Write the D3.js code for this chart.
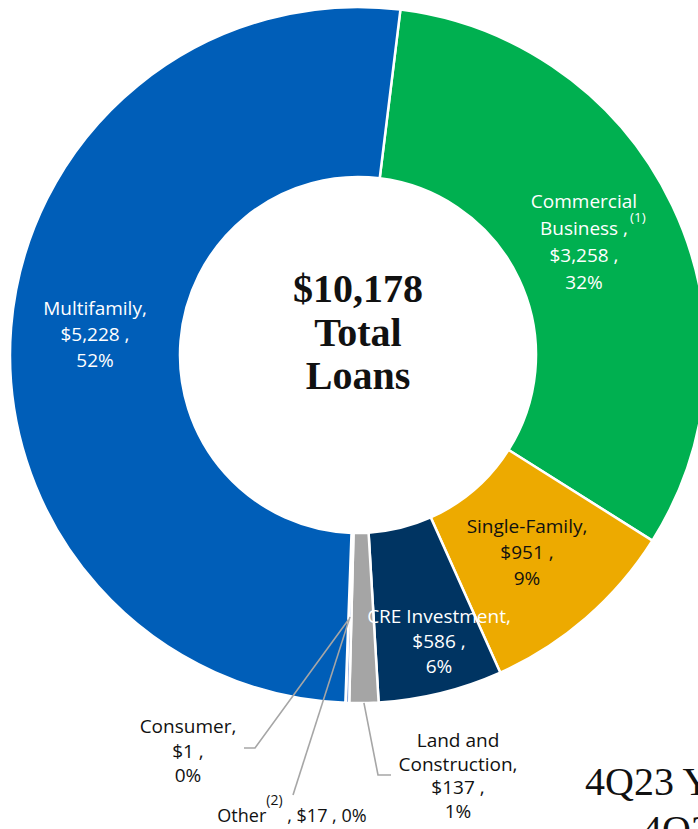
<!DOCTYPE html>
<html>
<head>
<meta charset="utf-8">
<script src="https://cdn.jsdelivr.net/npm/d3@7"></script>
<style>
  html, body { margin: 0; padding: 0; background: #fff; overflow: hidden; }
  svg { display: block; }
</style>
</head>
<body>
<svg id="chart" width="698" height="829"></svg>
<script>
// Loan portfolio composition ($ millions), clockwise from the top
const categories = ["Commercial Business", "Single-Family", "CRE Investment",
                    "Land and Construction", "Other", "Consumer", "Multifamily"];
const loanValues = [3258, 951, 586, 137, 17, 1, 5228];
const pctLabels = ["32%", "9%", "6%", "1%", "0%", "0%", "52%"];
const sliceColors = ["#00b050", "#edaa00", "#003462", "#a5a5a5", "#8faadc", "#8faadc", "#005eb8"];
const totalLabel = ["$10,178", "Total", "Loans"];

const svg = d3.select("#chart");
const cx = 358, cy = 355;
const outerR = 348, innerR = 178;

const fmtMoney = v => "$" + d3.format(",")(v);

const data = categories.map((c, i) => ({ name: c, value: loanValues[i], pct: pctLabels[i], color: sliceColors[i] }));

const pie = d3.pie()
  .value(d => d.value)
  .sort(null)
  .startAngle(7 * Math.PI / 180)
  .endAngle(7 * Math.PI / 180 + 2 * Math.PI);

const arc = d3.arc().innerRadius(innerR).outerRadius(outerR);
const arcs = pie(data);

const g = svg.append("g").attr("transform", `translate(${cx},${cy})`);

g.selectAll("path.slice")
  .data(arcs)
  .join("path")
  .attr("class", "slice")
  .attr("d", arc)
  .attr("fill", d => d.data.color)
  .attr("stroke", "#fff")
  .attr("stroke-width", 2.5)
  .attr("stroke-linejoin", "miter");

// Center total
const center = g.append("text")
  .attr("text-anchor", "middle")
  .attr("font-family", "'Liberation Serif', 'Times New Roman', serif")
  .attr("font-weight", "bold")
  .attr("font-size", 40)
  .attr("fill", "#111");
totalLabel.forEach((t, i) => {
  center.append("tspan").attr("x", 0).attr("y", -53 + i * 43.5).text(t);
});

// Label placement (absolute page coordinates)
const labelLayout = {
  "Multifamily":          { x: 95,  y: 315, lh: 26, color: "#fff" },
  "Commercial Business":  { x: 584, y: 208, lh: 27, color: "#fff", split: true, note: "(1)" },
  "Single-Family":        { x: 527, y: 533, lh: 26, color: "#111" },
  "CRE Investment":       { x: 439, y: 623, lh: 25, color: "#fff" },
  "Land and Construction":{ x: 458, y: 747, lh: 23.5, color: "#111", split: true },
  "Consumer":             { x: 188, y: 733, lh: 24.5, color: "#111" },
  "Other":                { x: 292, y: 822, lh: 0, color: "#111", inline: true, note: "(2)" }
};

const labelFont = "'Open Sans', 'Noto Sans', sans-serif";
const labels = svg.append("g")
  .attr("font-family", labelFont)
  .attr("font-size", 19)
  .attr("text-anchor", "middle");

arcs.forEach(a => {
  const d = a.data;
  const L = labelLayout[d.name];
  if (!L) return;
  const t = labels.append("text").attr("fill", L.color);

  if (L.inline) {
    // single line with an inline raised footnote marker
    t.attr("x", L.x).attr("y", L.y).attr("font-size", 18);
    t.append("tspan").text(d.name);
    t.append("tspan").attr("font-size", 14).attr("dy", -17).text(L.note);
    t.append("tspan").attr("dy", 17).text(` , ${fmtMoney(d.value)} , ${d.pct}`);
    return;
  }

  let lines;
  if (L.split) {
    const words = d.name.split(" ");
    const first = words.length > 2 ? words.slice(0, 2).join(" ") : words[0];
    const rest = words.length > 2 ? words.slice(2).join(" ") : words.slice(1).join(" ");
    lines = [first, rest + (L.note ? " ," : ","), fmtMoney(d.value) + " ,", d.pct];
  } else {
    lines = [d.name + ",", fmtMoney(d.value) + " ,", d.pct];
  }
  lines.forEach((ln, i) => {
    t.append("tspan").attr("x", L.x).attr("y", L.y + i * L.lh).text(ln);
  });

  if (L.note) {
    const noteLine = t.selectAll("tspan").nodes()[1];
    const w = noteLine.getComputedTextLength();
    labels.append("text")
      .attr("text-anchor", "start")
      .attr("font-size", 13.5)
      .attr("fill", L.color)
      .attr("x", L.x + w / 2 + 2)
      .attr("y", L.y + L.lh - 13)
      .text(L.note);
  }
});

// Leader lines for the narrow slices
const leaders = svg.append("g")
  .attr("fill", "none")
  .attr("stroke", "#a6a6a6")
  .attr("stroke-width", 1.6);

function sliceByName(n) { return arcs.find(a => a.data.name === n); }
function polar(angle, r) { return [cx + r * Math.sin(angle), cy - r * Math.cos(angle)]; }

const consumerArc = sliceByName("Consumer");
const otherArc = sliceByName("Other");
const landArc = sliceByName("Land and Construction");

const cStart = polar((consumerArc.startAngle + consumerArc.endAngle) / 2, 265);
leaders.append("polyline")
  .attr("points", [cStart, [255, 748], [244, 748]].map(p => p.join(",")).join(" "));

const oStart = polar((otherArc.startAngle + otherArc.endAngle) / 2, 262);
leaders.append("polyline")
  .attr("points", [oStart, [293, 795]].map(p => p.join(",")).join(" "));

const lStart = polar((landArc.startAngle + landArc.endAngle) / 2, outerR);
leaders.append("polyline")
  .attr("points", [lStart, [378, 775], [391, 775]].map(p => p.join(",")).join(" "));

// Heading text running off the lower right
const side = svg.append("g")
  .attr("font-family", "'Liberation Serif', 'Times New Roman', serif")
  .attr("font-size", 40)
  .attr("fill", "#111");
side.append("text").attr("x", 585).attr("y", 795).text("4Q23 Y");
side.append("text").attr("x", 642).attr("y", 843).text("4Q2");
</script>
</body>
</html>
